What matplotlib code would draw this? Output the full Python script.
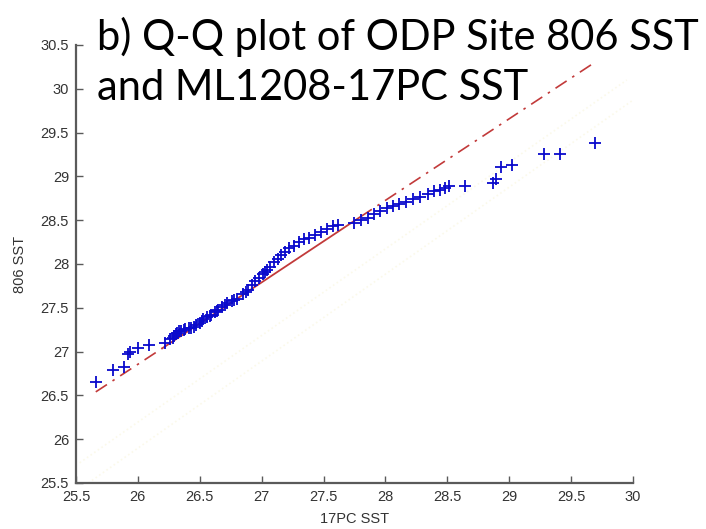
import numpy as np
import matplotlib.pyplot as plt

# Sorted quantiles (Q-Q pairs)
sst_17pc = [25.66, 25.80, 25.89, 25.92, 25.94, 26.00, 26.09, 26.22, 26.26, 26.28,
            26.29, 26.31, 26.32, 26.33, 26.35, 26.37, 26.38, 26.41, 26.43, 26.45,
            26.47, 26.50, 26.52, 26.53, 26.56, 26.58, 26.59, 26.62, 26.64, 26.65,
            26.68, 26.70, 26.72, 26.76, 26.78, 26.80, 26.85, 26.87, 26.89, 26.92,
            26.95, 26.98, 27.01, 27.03, 27.04, 27.07, 27.10, 27.13, 27.16, 27.19,
            27.22, 27.26, 27.30, 27.34, 27.38, 27.43, 27.48, 27.53, 27.58, 27.62,
            27.75, 27.80, 27.86, 27.91, 27.96, 28.01, 28.06, 28.11, 28.17, 28.22,
            28.28, 28.34, 28.39, 28.44, 28.48, 28.51, 28.64, 28.87, 28.89, 28.93,
            29.02, 29.28, 29.41, 29.69]
sst_806 = [26.65, 26.79, 26.82, 26.97, 27.00, 27.04, 27.07, 27.10, 27.14, 27.16,
           27.18, 27.20, 27.21, 27.23, 27.24, 27.25, 27.26, 27.27, 27.27, 27.28,
           27.30, 27.33, 27.35, 27.37, 27.40, 27.41, 27.42, 27.45, 27.46, 27.48,
           27.51, 27.53, 27.55, 27.58, 27.59, 27.60, 27.66, 27.68, 27.70, 27.76,
           27.80, 27.84, 27.88, 27.91, 27.93, 27.97, 28.02, 28.06, 28.10, 28.14,
           28.18, 28.21, 28.25, 28.28, 28.30, 28.33, 28.36, 28.40, 28.43, 28.45,
           28.47, 28.50, 28.52, 28.57, 28.61, 28.64, 28.66, 28.68, 28.71, 28.74,
           28.77, 28.80, 28.83, 28.85, 28.87, 28.89, 28.89, 28.93, 28.97, 29.11,
           29.13, 29.25, 29.25, 29.38]

# reference line: solid between quartiles, dash-dot extensions
fit_x = [25.66, 26.20, 27.80, 29.69]
fit_y = [26.54, 27.04, 28.54, 30.30]

# very faint guide lines visible in the scan
faint_a_x = [25.53, 29.95]
faint_a_y = [25.73, 30.10]
faint_b_x = [25.60, 30.05]
faint_b_y = [25.50, 29.92]

plt.rcParams['font.family'] = ['Liberation Sans', 'DejaVu Sans']

fig = plt.figure(figsize=(7.06, 5.29), dpi=100)
ax = fig.add_axes([0.1076, 0.087, 0.789, 0.828])

ax.plot(faint_a_x, faint_a_y, ':', color='#fbf9ea', lw=1.2)
ax.plot(faint_b_x, faint_b_y, ':', color='#fbf9ea', lw=1.2)

red = '#c23a3a'
ax.plot(fit_x[:2], fit_y[:2], '-.', color=red, lw=1.2, dashes=(8, 4, 1.5, 4))
ax.plot(fit_x[2:], fit_y[2:], '-.', color=red, lw=1.2, dashes=(8, 4, 1.5, 4))
ax.plot(fit_x[1:3], fit_y[1:3], '-', color=red, lw=1.3)

ax.plot(sst_17pc, sst_806, '+', color='#0a0acc', ms=9, mew=1.3, ls='none')

ax.set_xlim(25.5, 30)
ax.set_ylim(25.5, 30.5)
ax.set_xticks(np.arange(25.5, 30.01, 0.5))
ax.set_yticks(np.arange(25.5, 30.51, 0.5))
ax.set_xticklabels(['25.5', '26', '26.5', '27', '27.5', '28', '28.5', '29', '29.5', '30'])
ax.set_yticklabels(['25.5', '26', '26.5', '27', '27.5', '28', '28.5', '29', '29.5', '30', '30.5'])

for side in ['top', 'right']:
    ax.spines[side].set_visible(False)
for side in ['left', 'bottom']:
    ax.spines[side].set_color('#5a5a5a')
    ax.spines[side].set_linewidth(1.6)
ax.tick_params(direction='in', length=5, width=1, colors='#5a5a5a',
               labelcolor='#333333', labelsize=10.5, pad=5)

ax.set_xlabel('17PC SST', fontsize=10.5, color='#333333', labelpad=6)
ax.set_ylabel('806 SST', fontsize=10.5, color='#333333', labelpad=10)

# two-line overlay title, placed line by line
title_font = ['Lato', 'DejaVu Sans']
fig.text(0.137, 0.9055, 'b) Q-Q plot of ODP Site 806 SST', family=title_font,
         fontsize=30, color='black', ha='left', va='baseline')
fig.text(0.137, 0.811, 'and ML1208-17PC SST', family=title_font,
         fontsize=30, color='black', ha='left', va='baseline')

fig.savefig('out.png', dpi=100)
